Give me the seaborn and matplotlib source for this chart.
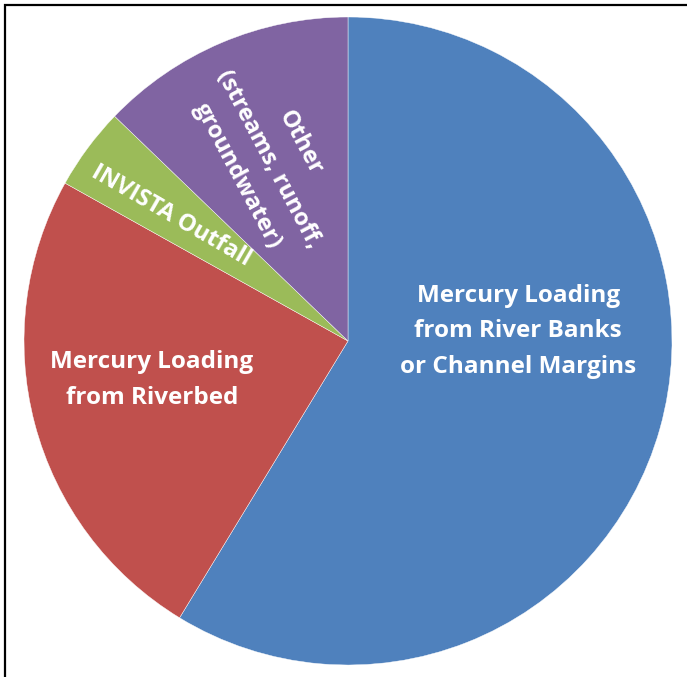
import matplotlib
matplotlib.use("Agg")
import matplotlib.pyplot as plt
import seaborn as sns
from matplotlib.patches import Rectangle

sources = ["Mercury Loading\nfrom River Banks\nor Channel Margins",
           "Mercury Loading\nfrom Riverbed",
           "INVISTA Outfall",
           "Other\n(streams, runoff,\ngroundwater)"]
shares = [58.7, 24.4, 4.1, 12.8]
colors = ["#4F81BD", "#C0504D", "#9BBB59", "#8064A2"]

sns.set_theme(style="white")
plt.rcParams['font.family'] = ['Open Sans', 'DejaVu Sans']

W, H = 687, 677
fig = plt.figure(figsize=(W / 100, H / 100), dpi=100)
fig.patch.set_facecolor("white")
ax = fig.add_axes([24 / W, 12 / H, 648 / W, 648 / H])
wedges, _ = ax.pie(shares, colors=colors, startangle=90, counterclock=False,
                   radius=1.0, wedgeprops=dict(edgecolor="white", linewidth=0.3))
ax.set_xlim(-1, 1)
ax.set_ylim(-1, 1)
ax.set_aspect("equal")
ax.axis("off")

label_pos = [(0.525, 0.030), (-0.605, -0.120), (-0.545, 0.385), (-0.245, 0.560)]
label_rot = [0, 0, -30, -62]
label_size = [17.5, 17.5, 17, 17]
for txt, (x, y), r, s in zip(sources, label_pos, label_rot, label_size):
    ax.text(x, y, txt, ha="center", va="center", rotation=r,
            rotation_mode="anchor", color="white", fontsize=s,
            fontweight="bold", linespacing=1.65)

# figure frame (top and left visible)
fig.patches.append(Rectangle((5 / W, -0.1), 1.2, 1 - 5 / H + 0.1,
                             transform=fig.transFigure, fill=False,
                             edgecolor="black", linewidth=1.6, zorder=10))

fig.savefig("out.png", dpi=100, facecolor="white")
